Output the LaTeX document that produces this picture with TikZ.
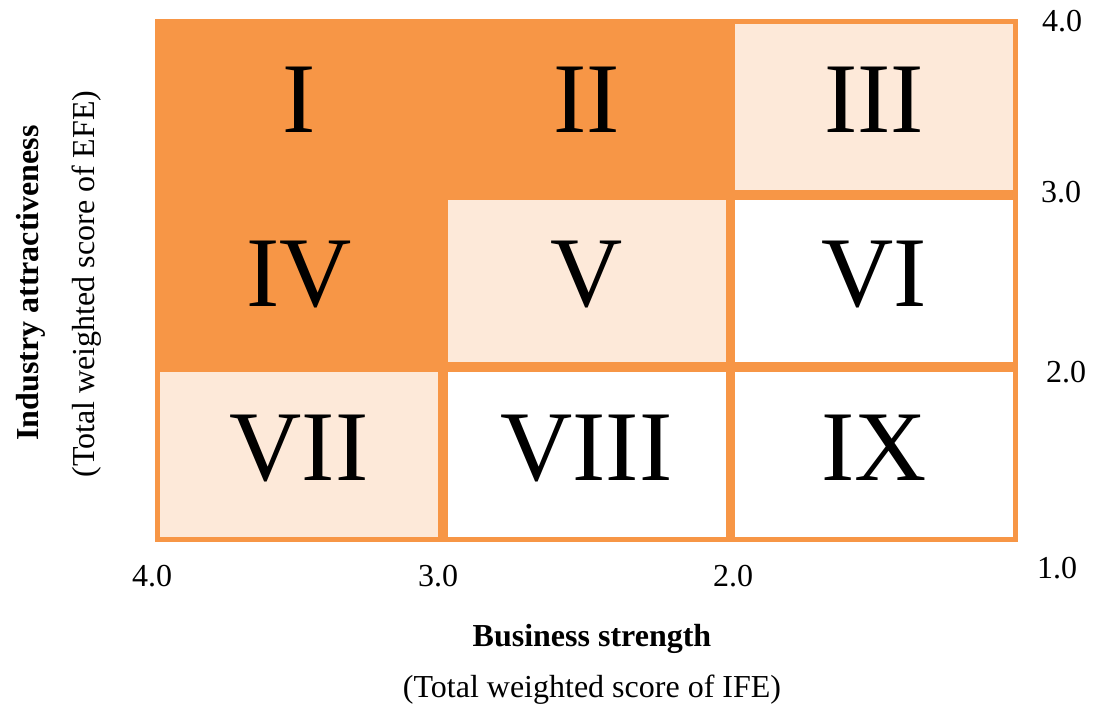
\documentclass[tikz,border=0pt]{standalone}
\usepackage{fontspec}
\setmainfont{Liberation Serif}
\definecolor{ieorange}{HTML}{F79646}
\definecolor{ielight}{HTML}{FDE9D9}
\begin{document}
\begin{tikzpicture}[x=1pt,y=-1pt,
  cell/.style={draw=ieorange, line width=5pt, rectangle, inner sep=0pt,
    minimum width=283pt, minimum height=#1, text depth=14pt,
    font=\fontsize{100}{100}\selectfont},
  hot/.style={fill=ieorange},
  warm/.style={fill=ielight},
  cool/.style={fill=white},
  tick/.style={anchor=base, inner sep=0pt, font=\fontsize{32}{32}\selectfont},
  axis/.style={anchor=base, inner sep=0pt, font=\fontsize{32}{32}\selectfont\bfseries},
  axisnote/.style={anchor=base, inner sep=0pt, font=\fontsize{32}{32}\selectfont}]
\useasboundingbox (0,0) rectangle (1097,709);
\fill[white] (0,0) rectangle (1097,709);

% row 1 (EFE 3.0--4.0)
\node[cell=171pt, hot]  (c1) at (299,107)   {I};
\node[cell=171pt, hot]  (c2) at (586.5,107) {II};
\node[cell=171pt, warm] (c3) at (874,107)   {III};
% row 2 (EFE 2.0--3.0)
\node[cell=167pt, hot]  (c4) at (299,281)   {IV};
\node[cell=167pt, warm] (c5) at (586.5,281) {V};
\node[cell=167pt, cool] (c6) at (874,281)   {VI};
% row 3 (EFE 1.0--2.0)
\node[cell=170pt, warm] (c7) at (299,454.5)   {VII};
\node[cell=170pt, cool] (c8) at (586.5,454.5) {VIII};
\node[cell=170pt, cool] (c9) at (874,454.5)   {IX};

% IFE scale along the bottom
\node[tick] (x4) at (152,586) {4.0};
\node[tick] (x3) at (438,586) {3.0};
\node[tick] (x2) at (733,586) {2.0};
% EFE scale along the right side
\node[tick] (y4) at (1062,32)  {4.0};
\node[tick] (y3) at (1061,202) {3.0};
\node[tick] (y2) at (1066,382) {2.0};
\node[tick] (y1) at (1057,578) {1.0};

% axis titles
\node[axis] (xt) at (592,646) {Business strength};
\node[axisnote] (xn) at (592,697) {(Total weighted score of IFE)};
\node[axis, rotate=90] (yt) at (38,283) {Industry attractiveness};
\node[axisnote, rotate=90] (yn) at (94,284) {(Total weighted score of EFE)};
\end{tikzpicture}
\end{document}
